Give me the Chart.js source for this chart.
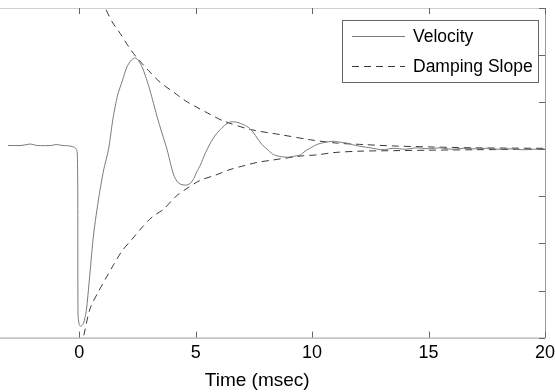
<!DOCTYPE html>
<html>
<head>
<meta charset="utf-8">
<script src="https://cdn.jsdelivr.net/npm/chart.js@4.4.1/dist/chart.umd.min.js"></script>
<style>
html,body{margin:0;padding:0;background:#fff;}
#wrap{width:555px;height:392px;position:relative;}
</style>
</head>
<body>
<div id="wrap"><canvas id="c" width="555" height="392"></canvas></div>
<script>
// ---- data ----
const velocityTime = [-3.06,-2.5,-2.1,-1.8,-1.2,-1.0,-0.7,-0.4,-0.2,-0.12,-0.08,-0.06,-0.05,0.0,0.07,0.18,0.3,0.45,0.62,0.85,1.05,1.26,1.45,1.65,1.85,2.05,2.25,2.41,2.55,2.7,2.85,2.98,3.15,3.34,3.55,3.77,3.92,4.06,4.2,4.34,4.5,4.63,4.78,4.92,5.05,5.2,5.4,5.63,5.85,6.06,6.3,6.49,6.7,6.92,7.15,7.35,7.5,7.64,7.85,8.07,8.3,8.5,8.7,8.93,9.2,9.5,9.7,9.94,10.2,10.4,10.7,10.94,11.2,11.5,11.8,12.1,12.5,13,13.5,14,14.5,15,15.5,16,16.5,17,17.5,18,18.5,19,19.5,20];
const velocity =     [0.08,0.08,0.11,0.08,0.08,0.1,0.08,0.07,0.04,0.0,-0.1,-1.0,-3.5,-3.72,-3.76,-3.7,-3.45,-2.7,-1.8,-1.0,-0.44,0.0,0.65,1.15,1.45,1.75,1.9,1.94,1.88,1.75,1.55,1.35,1.05,0.7,0.35,0.0,-0.3,-0.55,-0.68,-0.74,-0.76,-0.76,-0.72,-0.62,-0.48,-0.34,-0.1,0.13,0.3,0.42,0.53,0.58,0.58,0.55,0.5,0.43,0.34,0.24,0.1,0.0,-0.1,-0.14,-0.16,-0.17,-0.15,-0.12,-0.04,0.03,0.1,0.13,0.16,0.17,0.15,0.13,0.09,0.06,0.03,-0.01,0.02,0.0,0.03,0.01,0.03,0.0,0.02,0.01,0.02,0.0,0.01,-0.01,0.0,0.0];
const upperTime = [0.5,0.8,1.05,1.41,1.76,2.12,2.45,2.98,3.48,4.06,4.56,5.06,5.63,6.2,7.35,8.65,9.94,11.08,12.2,13.5,15,17,20];
const upperSlope = [3.65,3.33,3.07,2.71,2.46,2.18,1.96,1.67,1.42,1.21,1.03,0.89,0.74,0.6,0.42,0.31,0.2,0.13,0.1,0.07,0.05,0.03,0.02];
const lowerTime = [0.2,0.47,0.83,1.19,1.48,1.84,2.27,2.7,3.13,3.63,4.13,4.63,5.2,5.85,6.42,7.07,7.64,8.29,9.58,10.2,10.94,12.1,13.5,15,17,20];
const lowerSlope = [-3.95,-3.38,-3.02,-2.70,-2.45,-2.16,-1.91,-1.66,-1.44,-1.27,-1.01,-0.83,-0.66,-0.55,-0.44,-0.35,-0.28,-0.23,-0.14,-0.12,-0.07,-0.04,-0.03,-0.02,-0.01,0.0];
const xTicks = [0,5,10,15,20];
const yTicks = [-4,-3,-2,-1,0,1,2,3];
const seriesNames = ['Velocity','Damping Slope'];
const xTitle = 'Time (msec)';

const pts = (xs, ys) => xs.map((x,i)=>({x:x,y:ys[i]}));
const FONT = '"Liberation Sans", Arial, sans-serif';

const framePlugin = {
  id:'frame',
  afterDraw(chart){
    const ctx = chart.ctx, a = chart.chartArea;
    const xs = chart.scales.x, ys = chart.scales.y;
    ctx.save();
    ctx.lineWidth = 1;
    ctx.strokeStyle = '#9a9a9a';
    ctx.beginPath();
    ctx.moveTo(a.left, a.bottom+0.5); ctx.lineTo(a.right+0.5, a.bottom+0.5);
    ctx.moveTo(a.right+0.5, a.top); ctx.lineTo(a.right+0.5, a.bottom+0.5);
    ctx.stroke();
    ctx.strokeStyle = '#d0d0d0';
    ctx.beginPath();
    ctx.moveTo(a.left, a.top+0.5); ctx.lineTo(a.right+0.5, a.top+0.5);
    ctx.stroke();
    ctx.strokeStyle = '#666';
    ctx.beginPath();
    xTicks.forEach(v=>{
      const px = Math.round(xs.getPixelForValue(v))+0.5;
      ctx.moveTo(px, a.bottom); ctx.lineTo(px, a.bottom-6);
      ctx.moveTo(px, a.top); ctx.lineTo(px, a.top+6);
    });
    yTicks.forEach(v=>{
      const py = Math.round(ys.getPixelForValue(v))+0.5;
      ctx.moveTo(a.right, py); ctx.lineTo(a.right-6, py);
    });
    ctx.stroke();
    // axis title (drawn where the reference places it, slightly left of centre)
    ctx.fillStyle='#000';
    ctx.font = '19px '+FONT;
    ctx.textAlign='center';
    ctx.textBaseline='middle';
    ctx.fillText(xTitle, a.left + (a.right-a.left)*0.472, a.bottom + 43);
    // legend box
    const bx=342, by=20, bw=196, bh=62;
    ctx.fillStyle='#fff';
    ctx.fillRect(bx,by,bw,bh);
    ctx.strokeStyle='#666';
    ctx.strokeRect(bx+0.5,by+0.5,bw,bh);
    const ds = chart.data.datasets;
    const rows = [{d:ds[0], y:by+16},{d:ds[1], y:by+46}];
    rows.forEach(r=>{
      ctx.strokeStyle = r.d.borderColor;
      ctx.lineWidth = r.d.borderWidth;
      ctx.setLineDash(r.d.borderDash || []);
      ctx.beginPath();
      ctx.moveTo(bx+10, r.y+0.5); ctx.lineTo(bx+63, r.y+0.5);
      ctx.stroke();
      ctx.setLineDash([]);
      ctx.fillStyle='#000';
      ctx.font = '17.5px '+FONT;
      ctx.textBaseline='middle';
      ctx.textAlign='left';
      ctx.fillText(r.d.legendLabel, bx+71, r.y+1);
    });
    ctx.restore();
  }
};

new Chart(document.getElementById('c'), {
  type:'line',
  data:{
    datasets:[
      {legendLabel:seriesNames[0], label:seriesNames[0], data:pts(velocityTime, velocity), borderColor:'#7a7a7a', borderWidth:1, pointRadius:0, tension:0.25, fill:false},
      {legendLabel:seriesNames[1], label:seriesNames[1], data:pts(upperTime, upperSlope), borderColor:'#3a3a3a', borderWidth:1, borderDash:[7,5], pointRadius:0, tension:0.3, fill:false},
      {legendLabel:seriesNames[1], label:seriesNames[1]+' (lower)', data:pts(lowerTime, lowerSlope), borderColor:'#3a3a3a', borderWidth:1, borderDash:[7,5], pointRadius:0, tension:0.3, fill:false}
    ]
  },
  options:{
    responsive:false,
    animation:false,
    layout:{padding:{top:8,right:10,bottom:0,left:0}},
    plugins:{legend:{display:false}, tooltip:{enabled:false}},
    scales:{
      x:{
        type:'linear', min:-3.4, max:20,
        afterBuildTicks(s){ s.ticks = xTicks.map(v=>({value:v})); },
        afterFit(s){ s.paddingRight = 0; s.paddingLeft = 0; },
        grid:{display:false, drawTicks:false},
        border:{display:false},
        ticks:{padding:5, color:'#000', font:{family:FONT, size:18}, maxRotation:0, autoSkip:false},
        title:{display:true, text:xTitle, color:'rgba(0,0,0,0)', font:{family:FONT, size:19}, padding:{top:0,bottom:0}}
      },
      y:{
        type:'linear', min:-4, max:3, display:false
      }
    }
  },
  plugins:[framePlugin]
});
</script>
</body>
</html>
